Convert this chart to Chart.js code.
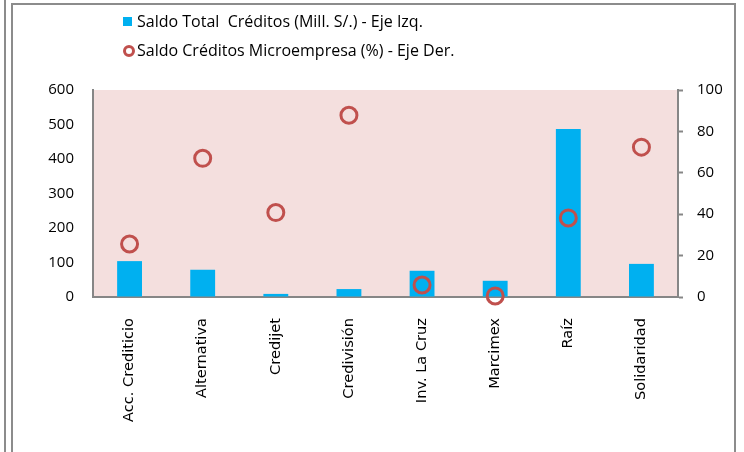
<!DOCTYPE html>
<html>
<head>
<meta charset="utf-8">
<script src="https://cdn.jsdelivr.net/npm/chart.js@4.4.1/dist/chart.umd.min.js"></script>
<style>
  html, body { margin: 0; padding: 0; background: #fff; }
  #wrap { position: relative; width: 744px; height: 452px; overflow: hidden; }
  #chart { position: absolute; left: 0; top: 0; }
  .frameOuter { position: absolute; left: 4px; top: 0; width: 2px; height: 452px; background: #8c8c8c; }
  .frameInner { position: absolute; left: 11px; top: 3px; width: 721px; height: 470px;
    border: 2px solid #8c8c8c; border-bottom: none; }
  .legend { position: absolute; left: 123px; font-family: "Open Sans", "Liberation Sans", sans-serif;
    font-size: 16px; color: #000; white-space: pre; }
  .legend .mark { position: absolute; left: 0; }
  .legend .txt { position: absolute; left: 14px; top: 0; }
</style>
</head>
<body>
<div id="wrap">
  <div class="frameOuter"></div>
  <div class="frameInner"></div>
  <canvas id="chart" width="744" height="452"></canvas>
  <div class="legend" id="leg1" style="top:10px"></div>
  <div class="legend" id="leg2" style="top:39px"></div>
</div>
<script>
// Data
const entidades = ['Acc. Crediticio', 'Alternativa', 'Credijet', 'Credivisión', 'Inv. La Cruz', 'Marcimex', 'Raíz', 'Solidaridad'];
const saldoTotal = [104, 79, 9, 23, 76, 47, 487, 96];        // Mill. S/. - left axis
const saldoMicro = [25.6, 67, 40.8, 87.8, 5.8, 0.5, 38.2, 72.4]; // % - right axis
const serieNombres = ['Saldo Total  Créditos (Mill. S/.) - Eje Izq.', 'Saldo Créditos Microempresa (%) - Eje Der.'];

const AXIS_GREY = '#868686';
const BAR_BLUE = '#00b0f0';
const RING_RED = '#c0504d';

// Legend (HTML, stacked vertically like the original)
document.getElementById('leg1').innerHTML =
  '<span class="mark" style="top:7px;width:9px;height:9px;background:' + BAR_BLUE + '"></span>' +
  '<span class="txt">' + serieNombres[0] + '</span>';
document.getElementById('leg2').innerHTML =
  '<span class="mark" style="top:6px;width:6px;height:6px;border:3px solid ' + RING_RED + ';border-radius:50%"></span>' +
  '<span class="txt">' + serieNombres[1] + '</span>';

// Pink plot-area background
const plotBg = {
  id: 'plotBg',
  beforeDraw(chart) {
    const { ctx, chartArea: a } = chart;
    ctx.save();
    ctx.fillStyle = '#f4dfde';
    ctx.fillRect(a.left, a.top, a.right - a.left, a.bottom - a.top);
    ctx.restore();
  }
};

const tickFont = { family: '"Open Sans", "Liberation Sans", sans-serif', size: 15 };

new Chart(document.getElementById('chart'), {
  type: 'bar',
  data: {
    labels: entidades,
    datasets: [
      {
        type: 'line',
        label: serieNombres[1],
        data: saldoMicro,
        yAxisID: 'y1',
        showLine: false,
        pointRadius: 8,
        pointBorderWidth: 3,
        pointBorderColor: RING_RED,
        pointBackgroundColor: 'rgba(0,0,0,0)',
        clip: false,
        order: 1
      },
      {
        label: serieNombres[0],
        data: saldoTotal,
        yAxisID: 'y',
        backgroundColor: BAR_BLUE,
        barPercentage: 0.34,
        categoryPercentage: 1,
        order: 2
      }
    ]
  },
  options: {
    responsive: false,
    animation: false,
    layout: { padding: { top: 90, left: 0, right: 0, bottom: 0 } },
    plugins: { legend: { display: false }, tooltip: { enabled: false } },
    scales: {
      x: {
        grid: { display: false },
        border: { color: AXIS_GREY, width: 2 },
        ticks: {
          minRotation: 90, maxRotation: 90, padding: 13, color: '#000',
          font: { family: '"DejaVu Sans", sans-serif', size: 14.6 }
        },
        afterFit(s) { s.height = 155; }
      },
      y: {
        position: 'left',
        min: 0, max: 600,
        grid: { drawOnChartArea: false, drawTicks: false },
        border: { color: AXIS_GREY, width: 2 },
        ticks: { stepSize: 100, padding: 19, color: '#000', font: tickFont },
        afterFit(s) { s.width = 93; }
      },
      y1: {
        position: 'right',
        min: 0, max: 100,
        grid: { drawOnChartArea: false, drawTicks: true, tickLength: 5, color: AXIS_GREY, tickWidth: 2 },
        border: { color: AXIS_GREY, width: 2 },
        ticks: { stepSize: 20, padding: 14, color: '#000', font: tickFont },
        afterFit(s) { s.width = 66; }
      }
    }
  },
  plugins: [plotBg]
});
</script>
</body>
</html>
